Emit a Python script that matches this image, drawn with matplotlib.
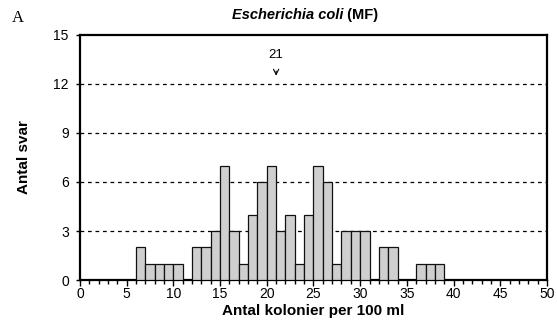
import matplotlib
matplotlib.use("Agg")
import matplotlib.pyplot as plt
import numpy as np
from matplotlib.ticker import MultipleLocator

# antal kolonier per 100 ml (vänster kant på stapeln) och antal svar
kolonier = [6, 7, 8, 9, 10, 12, 13, 14, 15, 16, 17, 18, 19, 20, 21, 22, 23, 24,
            25, 26, 27, 28, 29, 30, 32, 33, 36, 37, 38]
svar = [2, 1, 1, 1, 1, 2, 2, 3, 7, 3, 1, 4, 6, 7, 3, 4, 1, 4,
        7, 6, 1, 3, 3, 3, 2, 2, 1, 1, 1]
y_ticks = [0, 3, 6, 9, 12, 15]
x_ticks = [0, 5, 10, 15, 20, 25, 30, 35, 40, 45, 50]
median = 21

plt.rcParams['font.family'] = ['Liberation Sans', 'DejaVu Sans']

fig = plt.figure(figsize=(5.57, 3.26), dpi=100)
ax = fig.add_axes([0.1436, 0.141, 0.8384, 0.752])

ax.bar(kolonier, svar, width=1.0, align='edge', color='#cfcfcf',
       edgecolor='#111111', linewidth=0.9, zorder=3)

for y in y_ticks[1:-1]:
    ax.axhline(y, color='black', linestyle=(0, (3, 3)), linewidth=0.9, zorder=1)

ax.set_xlim(0, 50)
ax.set_ylim(0, 15)
ax.set_xticks(x_ticks)
ax.set_yticks(y_ticks)
ax.xaxis.set_minor_locator(MultipleLocator(1))
ax.tick_params(axis='both', which='major', labelsize=10, length=4, width=1, direction='out')
ax.tick_params(axis='x', which='minor', length=3, width=1, direction='out')
ax.tick_params(axis='y', length=3, pad=5)
ax.tick_params(axis='x', pad=1)
for s in ax.spines.values():
    s.set_linewidth(1.6)

ax.set_xlabel('Antal kolonier per 100 ml', fontsize=11, fontweight='bold', labelpad=2)
ax.set_ylabel('Antal svar', fontsize=11, fontweight='bold', labelpad=16)

ax.annotate(str(median), xy=(median, 12.5), xytext=(median, 13.75),
            ha='center', va='center', fontsize=9.5,
            arrowprops=dict(arrowstyle='->', lw=0.8, color='black',
                            shrinkA=5, shrinkB=0))

# titel i två delar: kursiv artnamn + (MF)
fig.canvas.draw()
r = fig.canvas.get_renderer()
t1 = fig.text(0, 0.942, 'Escherichia coli', fontsize=10.5, fontweight='bold',
              fontstyle='italic', ha='left', va='baseline')
t2 = fig.text(0, 0.942, ' (MF)', fontsize=10.5, fontweight='bold',
              ha='left', va='baseline')
w1 = t1.get_window_extent(r).width
w2 = t2.get_window_extent(r).width
W = fig.get_figwidth() * fig.dpi
x0 = 305 - (w1 + w2) / 2
t1.set_x(x0 / W)
t2.set_x((x0 + w1) / W)

fig.text(0.022, 0.934, 'A', fontsize=12, family='Liberation Serif',
         ha='left', va='baseline')

fig.savefig('out.png', dpi=100)
